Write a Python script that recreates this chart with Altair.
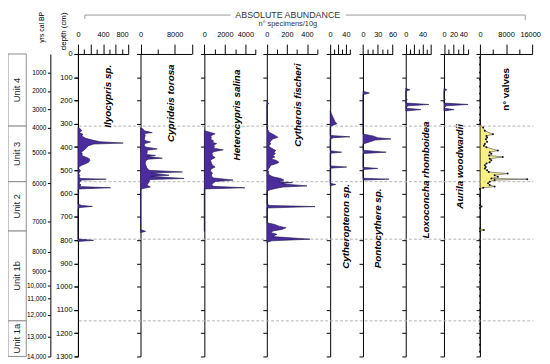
import altair as alt
import pandas as pd

FONT = "Liberation Sans"

# ---------------- data (depth in cm, abundance per 10 g) ----------------
ilyo_depth = [315,322,330,338,345,352,362,370,377,383,387,394,401,408,415,422,429,436,443,450,458,465,471,478,485,492,500,507,514,521,528,535,538,542,549,556,563,570,575,580,584,592,597,602,645,651,655,660,665,795,801,806]
ilyo_value = [0,40,60,20,80,60,120,230,350,720,250,170,140,120,90,50,70,60,120,180,190,170,130,60,20,10,40,30,10,30,20,40,450,60,30,20,50,20,520,20,0,0,20,0,0,60,230,30,0,0,250,0]

cypr_depth = [318,322,330,338,342,350,358,366,373,378,385,394,400,408,414,422,432,436,440,448,452,460,470,480,490,500,507,512,521,526,535,540,549,556,563,572,578,582,755,762,768]
cypr_value = [0,600,800,2750,900,1100,1000,900,1200,2350,1000,900,1200,3900,1500,1600,1400,3500,1600,5100,1800,1200,1100,1300,1500,2000,9800,2500,6700,2500,10200,2200,2000,1800,1500,2300,600,0,0,1200,0]

het_depth = [330,337,343,352,360,367,373,380,385,392,398,405,412,420,428,437,445,451,457,463,470,478,486,493,500,506,512,519,525,533,542,548,553,558,563,569,575,580,756,760,764]
het_value = [0,600,1050,600,700,600,900,800,1200,900,1000,900,1850,900,750,800,1050,800,600,650,700,800,1050,700,600,650,800,700,700,900,2800,1100,900,800,700,900,3950,0,0,60,0]

cyth_depth = [205,213,220,318,325,335,345,352,358,365,373,380,387,394,401,408,415,422,429,436,443,450,457,465,471,478,486,492,500,507,514,521,528,535,542,549,553,556,560,567,572,577,584,591,645,651,656,662,725,733,740,747,754,761,768,775,785,796,803,810]
cyth_value = [0,20,0,0,10,20,60,90,110,60,40,30,40,20,30,60,90,70,85,60,80,40,90,120,100,40,30,20,10,20,15,30,60,140,170,120,255,150,200,400,160,100,30,0,0,30,480,0,0,80,120,190,150,60,40,100,60,430,50,0]

ctp_depth = [245,260,275,290,300,306,312,350,356,360,366,416,422,427,481,486,491,556,561,566]
ctp_value = [0,4,8,12,17,8,0,0,50,8,0,0,29,0,0,42,0,0,14,0]

pont_depth = [160,168,175,344,352,360,365,370,380,387,414,422,428,487,492,497,534,538,542]
pont_value = [0,13,0,0,20,30,57,25,10,0,0,47,0,0,30,0,0,53,0]

lox_depth = [148,154,160,192,196,200,211,217,223,233,239,245]
lox_value = [0,10,0,0,4,0,0,55,5,0,36,0]

aur_depth = [148,154,160,192,196,200,211,217,223,233,239,245]
aur_value = [0,6,0,0,3,0,0,50,5,0,21,0]

val_depth = [15,45,80,110,140,170,200,230,260,285,302,316,330,345,352,359,366,377,387,394,401,415,422,429,436,443,450,457,465,471,478,486,492,500,507,514,521,528,535,538,542,549,556,563,570,575,580,610,650,656,662,700,750,757,762,800,830,860,890,920,950,980,1010,1040,1070,1100,1130,1160,1190,1220,1250,1280]
val_value = [0,0,0,0,0,0,0,0,0,0,0,1000,1500,4000,2000,2200,1800,2200,1500,1200,2000,5500,3000,3500,2800,7000,3000,3500,3000,2000,1500,1800,1500,2200,2700,8500,4500,5500,3500,14500,4500,3000,2500,3000,4500,1000,0,0,0,500,0,0,0,1200,0,0,0,0,0,0,0,0,0,0,0,0,0,0,0,0,0,0]

unit_names = ["Unit 4", "Unit 3", "Unit 2", "Unit 1b", "Unit 1a"]
unit_top = [0, 310, 549, 761, 1147]
unit_bottom = [310, 549, 761, 1147, 1300]
boundary_depths = [310, 549, 796, 1147]

age_labels = ["1000","2000","3000","4000","5000","6000","7000","8000","9000","10,000","11,000","12,000","13,000","14,000"]
age_depths = [80,159,237,316,422,555,719,850,933,996,1050,1121,1215,1300]

depth_ticks = list(range(0, 1301, 100))

# ---------------- layout / style ----------------
DEPTH_DOMAIN = [0, 1300]
Y_RANGE = [44, 351]
PURPLE = "#4a2c9c"
EDGE = "#1b1245"
TICK_FONT = 7.5

panels = [
    # data, domain, pixel range, ticks, labelled ticks, long ticks
    (ilyo_depth, ilyo_value, [0, 800], [71, 122], list(range(0, 801, 100)), [0, 400, 800], [0, 200, 400, 600, 800]),
    (cypr_depth, cypr_value, [0, 12000], [134.5, 186.5], [0, 4000, 8000, 12000], [0, 8000], [0, 8000, 12000]),
    (het_depth, het_value, [0, 5000], [199.3, 251.3], list(range(0, 5001, 1000)), [0, 2000, 4000], [0, 2000, 4000]),
    (cyth_depth, cyth_value, [0, 500], [262.7, 313.7], list(range(0, 501, 100)), [0, 200, 400], [0, 200, 400]),
    (ctp_depth, ctp_value, [0, 50], [327, 347], list(range(0, 51, 10)), [0, 40], [0, 20, 40]),
    (pont_depth, pont_value, [0, 60], [360.3, 390.3], list(range(0, 61, 10)), [0, 30, 60], [0, 30, 60]),
    (lox_depth, lox_value, [0, 60], [403.7, 429.3], list(range(0, 61, 10)), [0, 40], [0, 20, 40, 60]),
    (aur_depth, aur_value, [0, 50], [442.5, 467], list(range(0, 51, 10)), [0, 20, 40], [0, 20, 40]),
]


def y_enc(field, axis=None):
    return alt.Y(f"{field}:Q", scale=alt.Scale(domain=DEPTH_DOMAIN, range=Y_RANGE, nice=False, zero=False), axis=axis)


def panel_y_axis(x0):
    return alt.Axis(orient="left", offset=-x0, values=depth_ticks, labels=False, tickSize=4,
                    tickColor="black", domainColor="black", grid=False, title=None)


def panel_x_axis(ticks, labels, majors, **kw):
    return alt.Axis(orient="top", offset=-44, values=ticks, format="d",
                    labelExpr=f"indexof({labels}, datum.value) >= 0 ? datum.label : ''",
                    tickSize={"condition": {"test": f"indexof({majors}, datum.value) >= 0", "value": 10}, "value": 5},
                    labelPadding=6, labelFontSize=TICK_FONT, labelFont=FONT, labelColor="black",
                    tickColor="black", domainColor="black", grid=False, title=None,
                    labelFlush=False, labelOverlap=False, **kw)


layers = []

# dashed unit boundaries, carrying the depth axis
dash = alt.Chart(pd.DataFrame({"depth": boundary_depths})).mark_rule(
    color="#b3b3b3", strokeDash=[3, 2], strokeWidth=1
).encode(
    y=y_enc("depth", alt.Axis(orient="left", offset=-71, values=depth_ticks, tickSize=4, labelPadding=2,
                              labelFontSize=TICK_FONT, labelFont=FONT, labelColor="black", format="d",
                              domainColor="black", tickColor="black", grid=False, title=None)),
    x=alt.value(72), x2=alt.value(533),
)
layers.append(dash)

# units column, carrying the age axis
units_df = pd.DataFrame({"unit": unit_names, "top": unit_top, "bottom": unit_bottom})
age_expr = f"{age_labels}[indexof({age_depths}, datum.value)]"
units_rect = alt.Chart(units_df).mark_rect(fill="white", stroke="#8c8c8c", strokeWidth=1).encode(
    y=y_enc("top", alt.Axis(orient="left", offset=-43, values=age_depths, labelExpr=age_expr, tickSize=3,
                            labelPadding=1.5, labelFontSize=6.5, labelFont=FONT, labelColor="black",
                            domainColor="black", tickColor="black", grid=False, title=None, zindex=1)),
    y2=alt.Y2("bottom:Q"),
    x=alt.value(0), x2=alt.value(18.5),
)
units_text = alt.Chart(units_df).transform_calculate(mid="(datum.top + datum.bottom) / 2").mark_text(
    angle=270, fontSize=9.5, font=FONT, color="#222222"
).encode(y=y_enc("mid"), x=alt.value(9.5), text="unit:N")
layers += [units_rect, units_text]

# species panels
for i, (dep, val, dom, rng, ticks, labs, majors) in enumerate(panels):
    df = pd.DataFrame({"depth": dep, "value": val})
    kw = {}
    if i == 0:
        kw["labelAlign"] = {"condition": {"test": "datum.value == 800", "value": "right"}, "value": "center"}
    ch = alt.Chart(df).mark_area(orient="horizontal", fill=PURPLE, stroke=EDGE, strokeWidth=0.6).encode(
        x=alt.X("value:Q", stack=None, scale=alt.Scale(domain=dom, range=rng, nice=False, zero=True),
                axis=panel_x_axis(ticks, labs, majors, **kw)),
        y=y_enc("depth", panel_y_axis(rng[0])),
    )
    layers.append(ch)

# total valves panel
val_df = pd.DataFrame({"depth": val_depth, "value": val_value})
val_rng = [479, 532]
valves = alt.Chart(val_df).mark_area(
    orient="horizontal", fill="#f6ea55", stroke="#222222", strokeWidth=0.7,
    point={"filled": True, "size": 4, "color": "#111111"}
).encode(
    x=alt.X("value:Q", stack=None, scale=alt.Scale(domain=[0, 16000], range=val_rng, nice=False, zero=True),
            axis=panel_x_axis([0, 4000, 8000, 12000, 16000], [0, 8000, 16000], [0, 8000, 16000],
                              labelOffset={"condition": {"test": "datum.value == 16000", "value": -2}, "value": 0})),
    y=y_enc("depth", panel_y_axis(val_rng[0])),
)
layers.append(valves)

# text labels
one = pd.DataFrame({"a": [0]})


def label(text, x, y, size=10, style="italic", weight="bold", color="black", angle=270):
    return alt.Chart(one).mark_text(text=text, angle=angle, fontSize=size, fontStyle=style, fontWeight=weight,
                                    font=FONT, color=color, align="center", baseline="middle").encode(
        x=alt.value(x), y=alt.value(y))


species_names = ["Ilyocypris sp.", "Cyprideis torosa", "Heterocypris salina", "Cytherois fischeri",
                 "Cytheropteron sp.", "Pontocythere sp.", "Loxoconcha rhomboidea", "Aurila woodwardii"]
name_pos = [(102, 87), (165, 94), (232, 106), (294, 96), (343, 219), (376, 221), (424, 172), (459, 158)]
for n, (px, py) in zip(species_names, name_pos):
    layers.append(label(n, px, py))
layers.append(label("n° valves", 506, 80, style="normal"))

layers.append(label("yrs cal BP", 35, 17, size=7, style="normal", weight="normal"))
layers.append(label("depth (cm)", 57, 21, size=8, style="normal", weight="normal"))
layers.append(label("ABSOLUTE ABUNDANCE", 284, 4.5, size=9, style="normal", weight="normal", color="#333333", angle=0))
layers.append(label("n° specimens/10g", 284, 13.5, size=7.5, style="normal", weight="normal", color="#333333", angle=0))

# header bracket
br = dict(color="#9a9a9a", strokeWidth=1)
layers.append(alt.Chart(one).mark_rule(**br).encode(x=alt.value(78), x2=alt.value(226), y=alt.value(4.5)))
layers.append(alt.Chart(one).mark_rule(**br).encode(x=alt.value(78), y=alt.value(4.5), y2=alt.value(8.5)))
layers.append(alt.Chart(one).mark_rule(**br).encode(x=alt.value(343), x2=alt.value(525), y=alt.value(4.5)))
layers.append(alt.Chart(one).mark_rule(**br).encode(x=alt.value(525), y=alt.value(4.5), y2=alt.value(9.5)))

chart = alt.layer(*layers).resolve_scale(x="independent", y="independent").resolve_axis(
    x="independent", y="independent"
).properties(
    width=542, height=356, padding=0, autosize=alt.AutoSizeParams(type="none"), background="white"
).configure_view(stroke=None)

chart.save("out.html", embed_options={"renderer": "svg", "actions": False})
